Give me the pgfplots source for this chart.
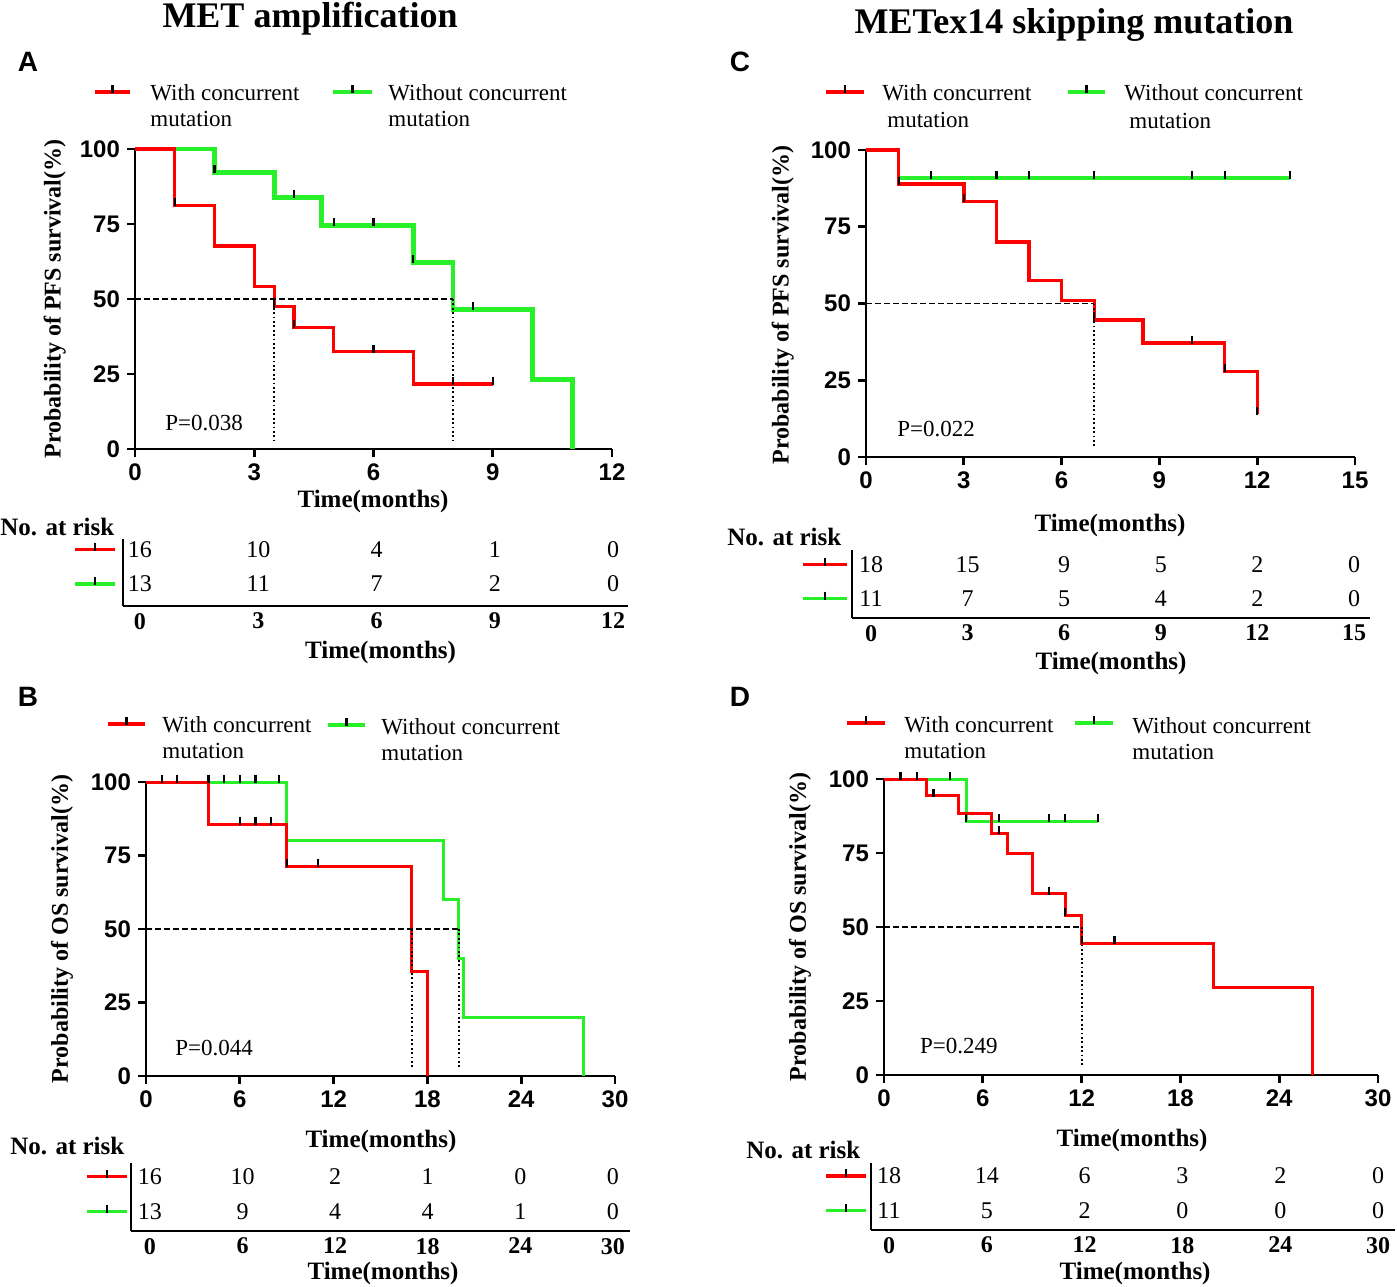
\documentclass[border=0pt]{standalone}
\usepackage{fontspec}
\setmainfont{Liberation Serif}
\setsansfont{Liberation Sans}
\usepackage{pgfplots}
\usepackage{pgfplotstable}
\pgfplotsset{compat=1.18}
\definecolor{kmred}{RGB}{255,0,0}
\definecolor{kmgreen}{RGB}{40,240,40}
\newcommand{\fs}[1]{\fontsize{#1}{#1}\selectfont}

\pgfplotsset{
  km/.style={
    scale only axis, anchor=south west, axis lines=left,
    axis line style={-, line width=1.4pt, black},
    tick style={black, line width=1.4pt},
    tick align=outside, major tick length=4pt,
    ymin=0, ymax=100, ytick={0,25,50,75,100},
    /pgf/number format/assume math mode=true,
    ticklabel style={font=\sffamily\bfseries\fs{12}},
    xlabel style={font=\bfseries\fs{12.5}},
    ylabel style={font=\bfseries\fs{12}},
    clip=false,
  },
  censor/.style={only marks, mark=|, mark size=2pt, mark options={black, solid, line width=1.1pt, yshift=1.5pt}},
  legline/.style={line width=1.7pt, mark=|, mark indices={2}, mark size=2pt, mark options={black, solid, line width=1.1pt, yshift=1.5pt}},
  median/.style={black, line width=0.6pt, dash pattern=on 3pt off 1.5pt},
  mediandot/.style={black, line width=0.9pt, dash pattern=on 0.9pt off 1.3pt},
  risk/.style={
    scale only axis, anchor=south west, axis lines=left,
    axis line style={-, line width=0.9pt, black},
    ytick=\empty, major tick length=0pt, tick style={draw=none},
    /pgf/number format/assume math mode=true,
    xticklabel style={font=\bfseries\fs{12}},
    xlabel style={font=\bfseries\fs{12.5}},
    clip=false,
  },
  risknum/.style={draw=none, mark=none, nodes near coords, point meta=explicit symbolic,
    every node near coord/.append style={anchor=center, inner sep=0pt, font=\fs{12}, text=black}},
}

\pgfplotstableread{
x y n
0 2 16
3 2 10
6 2 4
9 2 1
12 2 0
0 1 13
3 1 11
6 1 7
9 1 2
12 1 0
}\riskA
\pgfplotstableread{
x y n
0 2 16
6 2 10
12 2 2
18 2 1
24 2 0
30 2 0
0 1 13
6 1 9
12 1 4
18 1 4
24 1 1
30 1 0
}\riskB
\pgfplotstableread{
x y n
0 2 18
3 2 15
6 2 9
9 2 5
12 2 2
15 2 0
0 1 11
3 1 7
6 1 5
9 1 4
12 1 2
15 1 0
}\riskC
\pgfplotstableread{
x y n
0 2 18
6 2 14
12 2 6
18 2 3
24 2 2
30 2 0
0 1 11
6 1 5
12 1 2
18 1 0
24 1 0
30 1 0
}\riskD

\begin{document}
\begin{tikzpicture}
\path[use as bounding box] (0,0) rectangle (698.5pt,-643pt);

% ---------------- Panel A ----------------
\begin{axis}[km, at={(67.5pt,-224.5pt)}, width=238.5pt, height=150pt,
  xmin=0, xmax=12, xtick={0,3,6,9,12},
  xlabel={Time(months)}, ylabel={Probability of PFS survival(\%)},
  xlabel style={at={(axis description cs:0.499,-0.175)}, anchor=center},
  ylabel style={at={(axis description cs:-0.168,0.5)}, anchor=center}]
\addplot[kmgreen, line width=2.4pt, const plot] coordinates {(0,100)(2,92.3)(3.5,83.9)(4.7,74.6)(7,62.2)(8,46.6)(10,23.3)(11,0)};
\addplot[kmred, line width=1.6pt, const plot] coordinates {(0,100)(1,81.25)(2,67.7)(3,54.2)(3.5,47.4)(4,40.6)(5,32.5)(7,21.7)(9,21.7)};
\addplot[median] coordinates {(0,50)(8,50)};
\addplot[mediandot] coordinates {(3.5,50)(3.5,3)};
\addplot[mediandot] coordinates {(8,50)(8,3)};
\addplot[censor] coordinates {(2,92.3)(4,83.9)(5,74.6)(6,74.6)(7,62.2)(8.5,46.6)};
\addplot[censor] coordinates {(1,81.25)(3.5,47.4)(4,40.6)(6,32.5)(8,21.7)(9,21.7)};
\addplot[legline, kmred] coordinates {(-1.006,119)(-0.566,119)(-0.126,119)};
\addplot[legline, kmgreen, line width=2.2pt] coordinates {(4.981,119)(5.472,119)(5.962,119)};
\node[font=\fs{11.5}] at (axis cs:1.736,8.67) {P=0.038};
\end{axis}

\begin{axis}[risk, at={(61.5pt,-303pt)}, width=252.5pt, height=33.5pt,
  xmin=-0.431, xmax=12.38, ymin=0.362, ymax=2.304, xtick={0,3,6,9,12},
  xlabel={Time(months)}, xlabel style={at={(axis description cs:0.51,-0.687)}, anchor=center}]
\addplot[risknum] table[x=x, y=y, meta=n] {\riskA};
\addplot[legline, kmred] coordinates {(-1.649,2)(-1.142,2)(-0.634,2)};
\addplot[legline, kmgreen] coordinates {(-1.649,1)(-1.142,1)(-0.634,1)};
\end{axis}

% ---------------- Panel B ----------------
\begin{axis}[km, at={(73pt,-538pt)}, width=234.5pt, height=147pt,
  xmin=0, xmax=30, xtick={0,6,12,18,24,30},
  xlabel={Time(months)}, ylabel={Probability of OS survival(\%)},
  xlabel style={at={(axis description cs:0.501,-0.221)}, anchor=center},
  ylabel style={at={(axis description cs:-0.179,0.5)}, anchor=center}]
\addplot[kmgreen, line width=1.5pt, const plot] coordinates {(0,100)(9,80)(19,60)(20,40)(20.3,20)(28,0)};
\addplot[kmred, line width=1.5pt, const plot] coordinates {(0,100)(4,85.7)(9,71.4)(17,35.7)(18,0)};
\addplot[median] coordinates {(0,50)(20,50)};
\addplot[mediandot] coordinates {(17,50)(17,3)};
\addplot[mediandot] coordinates {(20,50)(20,3)};
\addplot[censor] coordinates {(4,100)(5,100)(6,100)(7,100)(8.5,100)};
\addplot[censor] coordinates {(1,100)(2,100)(6,85.7)(7,85.7)(8,85.7)(9,71.4)(11,71.4)};
\addplot[legline, kmred] coordinates {(-2.431,119.7)(-1.247,119.7)(-0.064,119.7)};
\addplot[legline, kmgreen] coordinates {(11.64,119.4)(12.83,119.4)(14.01,119.4)};
\node[font=\fs{11.5}] at (axis cs:4.35,9.5) {P=0.044};
\end{axis}

\begin{axis}[risk, at={(65.5pt,-615.5pt)}, width=249.5pt, height=34pt,
  xmin=-1.231, xmax=31.11, ymin=0.449, ymax=2.392, xtick={0,6,12,18,24,30},
  xlabel={Time(months)}, xlabel style={at={(axis description cs:0.505,-0.618)}, anchor=center}]
\addplot[risknum] table[x=x, y=y, meta=n] {\riskB};
\addplot[legline, kmred] coordinates {(-4.083,2)(-2.787,2)(-1.491,2)};
\addplot[legline, kmgreen] coordinates {(-4.083,1)(-2.787,1)(-1.491,1)};
\end{axis}

% ---------------- Panel C ----------------
\begin{axis}[km, at={(433pt,-228.5pt)}, width=244.5pt, height=153.5pt,
  xmin=0, xmax=15, xtick={0,3,6,9,12,15},
  xlabel={Time(months)}, ylabel={Probability of PFS survival(\%)},
  xlabel style={at={(axis description cs:0.499,-0.2215)}, anchor=center},
  ylabel style={at={(axis description cs:-0.170,0.495)}, anchor=center}]
\addplot[kmgreen, line width=1.7pt, const plot] coordinates {(0,100)(1,90.9)(13,90.9)};
\addplot[kmred, line width=1.7pt, const plot] coordinates {(0,100)(1,88.9)(3,83.3)(4,70.0)(5,57.4)(6,51.0)(7,44.6)(8.5,37.2)(11,27.9)(12,14.0)};
\addplot[median] coordinates {(0,50)(7,50)};
\addplot[mediandot] coordinates {(7,50)(7,3)};
\addplot[censor] coordinates {(2,90.9)(4,90.9)(5,90.9)(7,90.9)(10,90.9)(11,90.9)(13,90.9)};
\addplot[censor] coordinates {(1,88.9)(3,83.3)(7,44.6)(10,37.2)(11,27.9)(12,14.0)};
\addplot[legline, kmred] coordinates {(-1.227,118.9)(-0.644,118.9)(-0.061,118.9)};
\addplot[legline, kmgreen] coordinates {(6.196,118.9)(6.764,118.9)(7.331,118.9)};
\node[font=\fs{11.5}] at (axis cs:2.15,9.1) {P=0.022};
\end{axis}

\begin{axis}[risk, at={(426pt,-309pt)}, width=259pt, height=34pt,
  xmin=-0.590, xmax=15.497, ymin=0.432, ymax=2.432, xtick={0,3,6,9,12,15},
  xlabel={Time(months)}, xlabel style={at={(axis description cs:0.5,-0.662)}, anchor=center}]
\addplot[risknum] table[x=x, y=y, meta=n] {\riskC};
\addplot[legline, kmred] coordinates {(-2.112,2)(-1.429,2)(-0.745,2)};
\addplot[legline, kmgreen] coordinates {(-2.112,1)(-1.429,1)(-0.745,1)};
\end{axis}

% ---------------- Panel D ----------------
\begin{axis}[km, at={(442pt,-537.5pt)}, width=247pt, height=148pt,
  xmin=0, xmax=30, xtick={0,6,12,18,24,30},
  xlabel={Time(months)}, ylabel={Probability of OS survival(\%)},
  xlabel style={at={(axis description cs:0.502,-0.2196)}, anchor=center},
  ylabel style={at={(axis description cs:-0.170,0.5)}, anchor=center}]
\addplot[kmgreen, line width=1.5pt, const plot] coordinates {(0,100)(5,85.7)(13,85.7)};
\addplot[kmred, line width=1.5pt, const plot] coordinates {(0,100)(2.6,94.4)(4.5,88.2)(6.5,81.6)(7.5,74.9)(9,61.2)(11,53.9)(12,44.6)(20,29.7)(26,0)};
\addplot[median] coordinates {(0,50)(12,50)};
\addplot[mediandot] coordinates {(12,50)(12,3)};
\addplot[censor] coordinates {(4,100)(5,85.7)(7,85.7)(10,85.7)(11,85.7)(13,85.7)};
\addplot[censor] coordinates {(1,100)(2,100)(3,94.4)(7,81.6)(10,61.2)(11,53.9)(12,44.6)(14,44.6)};
\addplot[legline, kmred] coordinates {(-2.247,118.9)(-1.093,118.9)(0.061,118.9)};
\addplot[legline, kmgreen] coordinates {(11.6,118.9)(12.75,118.9)(13.91,118.9)};
\node[font=\fs{11.5}] at (axis cs:4.55,9.8) {P=0.249};
\end{axis}

\begin{axis}[risk, at={(435.5pt,-615pt)}, width=262pt, height=33.5pt,
  xmin=-1.104, xmax=31.04, ymin=0.444, ymax=2.375, xtick={0,6,12,18,24,30},
  xlabel={Time(months)}, xlabel style={at={(axis description cs:0.504,-0.642)}, anchor=center}]
\addplot[risknum] table[x=x, y=y, meta=n] {\riskD};
\addplot[legline, kmred] coordinates {(-3.865,2)(-2.638,2)(-1.411,2)};
\addplot[legline, kmgreen] coordinates {(-3.865,1)(-2.638,1)(-1.411,1)};
\end{axis}

% ---------------- Texts ----------------
\begin{scope}[x=0.5pt, y=-0.5pt]
\node[anchor=base, inner sep=0pt, font=\bfseries\fs{18}] at (310,27) {MET amplification};
\node[anchor=base, inner sep=0pt, font=\bfseries\fs{18}] at (1074,33) {METex14 skipping mutation};
\foreach \l/\x/\y in {A/28/62, B/28/697, C/740/62, D/740/697}
  \node[anchor=center, inner sep=0pt, font=\sffamily\bfseries\fs{14}] at (\x,\y) {\l};
\tikzset{lt/.style={anchor=base west, inner sep=0pt, font=\fs{11.5}}}
\node[lt] at (150,100) {With concurrent};
\node[lt] at (150,126) {mutation};
\node[lt] at (388,100) {Without concurrent};
\node[lt] at (388,126) {mutation};
\node[lt] at (162,732) {With concurrent};
\node[lt] at (162,758) {mutation};
\node[lt] at (381,734) {Without concurrent};
\node[lt] at (381,760) {mutation};
\node[lt] at (882,100) {With concurrent};
\node[lt] at (887,127) {mutation};
\node[lt] at (1124,100) {Without concurrent};
\node[lt] at (1129,128) {mutation};
\node[lt] at (904,732) {With concurrent};
\node[lt] at (904,758) {mutation};
\node[lt] at (1132,733) {Without concurrent};
\node[lt] at (1132,759) {mutation};
\tikzset{nr/.style={anchor=west, inner sep=0pt, font=\bfseries\fs{12.5}}}
\node[nr] at (0,527) {No. at risk};
\node[nr] at (10,1146) {No. at risk};
\node[nr] at (727,537) {No. at risk};
\node[nr] at (746,1150) {No. at risk};
\end{scope}
\end{tikzpicture}
\end{document}
